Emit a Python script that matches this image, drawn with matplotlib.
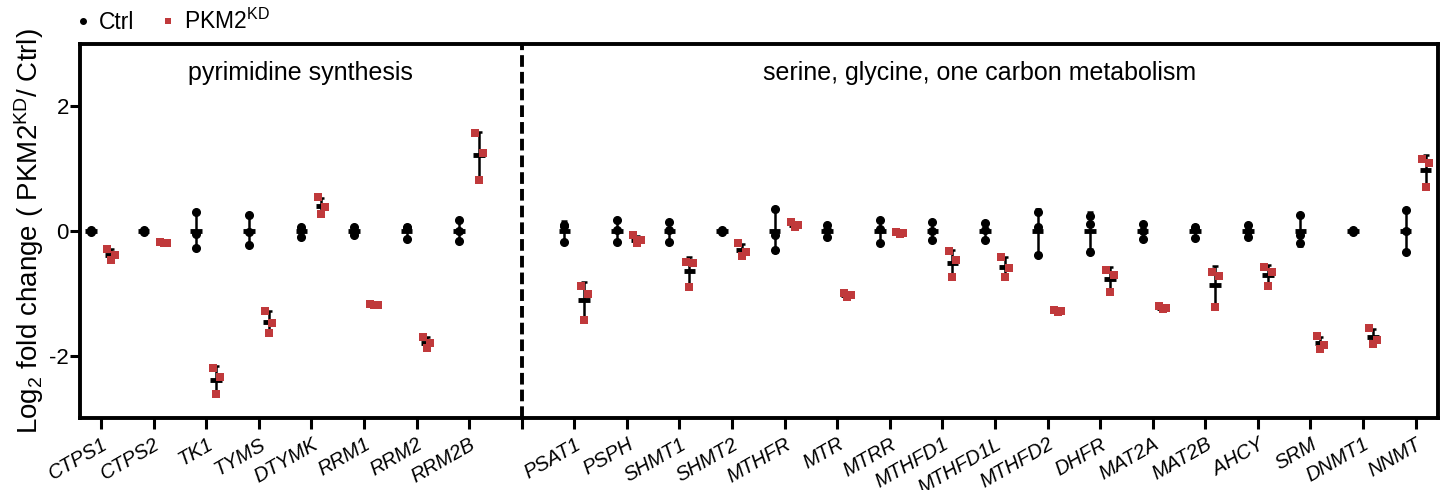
import numpy as np
import matplotlib
matplotlib.use('Agg')
import matplotlib.pyplot as plt
from matplotlib.lines import Line2D

plt.rcParams['font.family'] = ['Liberation Sans', 'DejaVu Sans']
plt.rcParams['mathtext.fontset'] = 'custom'
plt.rcParams['mathtext.rm'] = 'Liberation Sans'
plt.rcParams['mathtext.it'] = 'Liberation Sans:italic'

# genes, two groups split by the dashed line
genes_pyr = ['CTPS1', 'CTPS2', 'TK1', 'TYMS', 'DTYMK', 'RRM1', 'RRM2', 'RRM2B']
genes_ser = ['PSAT1', 'PSPH', 'SHMT1', 'SHMT2', 'MTHFR', 'MTR', 'MTRR', 'MTHFD1',
             'MTHFD1L', 'MTHFD2', 'DHFR', 'MAT2A', 'MAT2B', 'AHCY', 'SRM', 'DNMT1', 'NNMT']

# log2 fold change, 3 replicates each
ctrl_pyr = [[0.02, 0.0, -0.02], [0.02, 0.0, -0.02], [0.30, -0.04, -0.27], [0.25, -0.02, -0.23],
            [0.07, 0.02, -0.09], [0.07, -0.01, -0.06], [0.07, 0.05, -0.12], [0.17, 0.0, -0.16]]
kd_pyr = [[-0.29, -0.385, -0.465], [-0.18, -0.19, -0.20], [-2.20, -2.34, -2.62], [-1.28, -1.48, -1.64],
          [0.54, 0.38, 0.28], [-1.17, -1.18, -1.19], [-1.70, -1.80, -1.87], [1.57, 1.26, 0.82]]

ctrl_ser = [[0.10, 0.08, -0.18], [0.17, 0.02, -0.17], [0.15, 0.02, -0.18], [0.02, 0.0, -0.02],
            [0.36, -0.06, -0.30], [0.10, 0.02, -0.10], [0.17, 0.03, -0.20], [0.15, 0.0, -0.15],
            [0.13, 0.01, -0.14], [0.31, 0.07, -0.38], [0.24, 0.11, -0.33], [0.12, 0.0, -0.12],
            [0.07, 0.04, -0.11], [0.10, 0.0, -0.10], [0.26, -0.06, -0.20], [0.02, 0.0, -0.02],
            [0.33, 0.0, -0.33]]
kd_ser = [[-0.88, -1.01, -1.43], [-0.07, -0.15, -0.20], [-0.50, -0.52, -0.90], [-0.20, -0.33, -0.40],
          [0.14, 0.10, 0.07], [-1.00, -1.03, -1.06], [-0.01, -0.03, -0.04], [-0.32, -0.47, -0.74],
          [-0.41, -0.60, -0.74], [-1.26, -1.28, -1.30], [-0.63, -0.70, -0.98], [-1.21, -1.23, -1.25],
          [-0.66, -0.72, -1.22], [-0.58, -0.65, -0.89], [-1.69, -1.83, -1.89], [-1.56, -1.75, -1.81],
          [1.15, 1.09, 0.71]]

red = '#c0393b'
jitter = np.array([-0.07, 0.07, 0.0])
off = 0.19

genes = genes_pyr + genes_ser
ctrl = ctrl_pyr + ctrl_ser
kd = kd_pyr + kd_ser
pos = list(range(len(genes_pyr))) + [len(genes_pyr) + 1 + i for i in range(len(genes_ser))]
split = len(genes_pyr)

fig = plt.figure(figsize=(14.42, 4.9), dpi=100)
ax = fig.add_axes([0.0555, 0.147, 0.9415, 0.763])

for x, c, k in zip(pos, ctrl, kd):
    c = np.array(c)
    k = np.array(k)
    # ctrl
    ax.plot([x - off] * 3, c, 'o', color='black', ms=5.5, zorder=3)
    ax.errorbar(x - off, c.mean(), yerr=c.std(ddof=1), color='black', lw=1.8,
                capsize=2.5, capthick=1.8, zorder=4)
    ax.plot([x - off - 0.11, x - off + 0.11], [c.mean()] * 2, color='black', lw=3.5,
            solid_capstyle='butt', zorder=4)
    # knockdown
    ax.errorbar(x + off, k.mean(), yerr=k.std(ddof=1), color='black', lw=1.8,
                capsize=2.5, capthick=1.8, zorder=3)
    ax.plot([x + off - 0.11, x + off + 0.11], [k.mean()] * 2, color='black', lw=3.5,
            solid_capstyle='butt', zorder=3)
    ax.plot(x + off + jitter, k, 's', color=red, ms=6, mew=0, zorder=5)

ax.axvline(split, color='black', lw=2.8, ls=(0, (3, 1.3)), zorder=2)

ax.set_xlim(-0.4, len(genes) + 0.42)
ax.set_ylim(-3, 3)
ax.set_yticks([-2, 0, 2])
ax.set_yticklabels(['-2', '0', '2'], fontsize=16)
ax.set_xticks(list(range(len(genes) + 1)))
ax.set_xticklabels(genes_pyr + [''] + genes_ser, rotation=30, ha='right',
                   rotation_mode='anchor', fontsize=14.5, style='italic')
ax.tick_params(axis='x', length=8, width=2.2, pad=4)
ax.tick_params(axis='y', length=7, width=2.2, pad=1)
for s in ax.spines.values():
    s.set_linewidth(2.8)

ax.set_ylabel('Log$_2$ fold change ( PKM2$^{\\mathrm{KD}}$/ Ctrl)', fontsize=20, labelpad=2)

xr = len(genes) + 0.42
ax.text((split - 0.4) / 2, 2.54, 'pyrimidine synthesis', ha='center', va='center', fontsize=18)
ax.text((split + xr) / 2, 2.54, 'serine, glycine, one carbon metabolism', ha='center',
        va='center', fontsize=18)

handles = [Line2D([], [], marker='o', color='black', ls='none', ms=4),
           Line2D([], [], marker='s', color=red, ls='none', ms=4.5, mew=0)]
fig.legend(handles, ['Ctrl', 'PKM2$^{\\mathrm{KD}}$'], loc='upper left',
           bbox_to_anchor=(0.035, 1.025), ncol=2, frameon=False, fontsize=16.5,
           handletextpad=0.2, columnspacing=1.0, handlelength=1.0)

fig.savefig('out.png', dpi=100)
